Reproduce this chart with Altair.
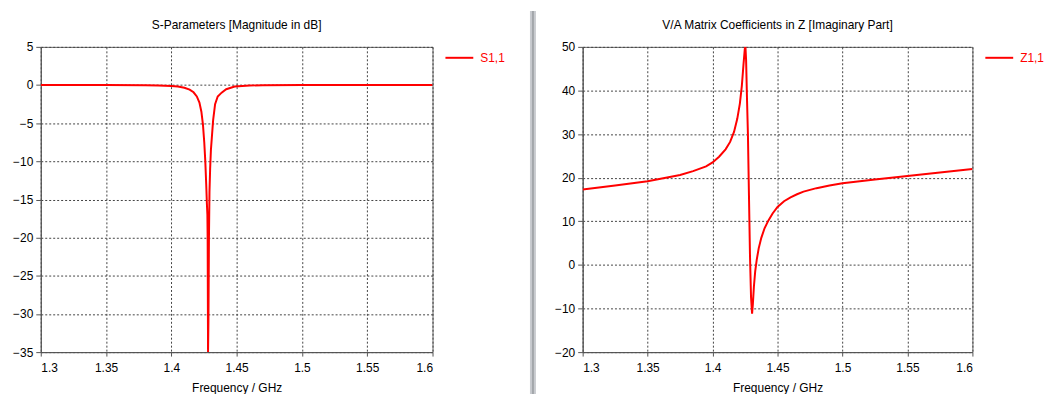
import altair as alt
import pandas as pd

# ---- data ----
s_freq = [1.30, 1.35, 1.38, 1.39, 1.40, 1.405, 1.41, 1.414, 1.417, 1.4195, 1.4215, 1.423,
          1.4242, 1.4252, 1.426, 1.4267, 1.4272, 1.4276, 1.4278, 1.4281, 1.4284, 1.4288,
          1.4292, 1.4297, 1.4303, 1.431, 1.432, 1.4335, 1.4355, 1.4385, 1.442, 1.4485,
          1.46, 1.47, 1.50, 1.55, 1.60]
s_vals = [0, 0, -0.03, -0.06, -0.12, -0.2, -0.35, -0.6, -0.95, -1.5, -2.3, -3.5,
          -5.2, -7.5, -10, -13, -15.5, -17, -20, -35, -31, -20,
          -14, -11, -8.5, -6.9, -4.6, -2.5, -1.5, -1.0, -0.55, -0.2,
          -0.06, -0.03, 0, 0, 0]

z_freq = [1.30, 1.325, 1.35, 1.375, 1.385, 1.395, 1.40, 1.405, 1.41, 1.4135, 1.4165, 1.419,
          1.421, 1.4225, 1.4238, 1.4248, 1.4253, 1.4258, 1.4265, 1.4272, 1.428, 1.4288,
          1.4296, 1.4304, 1.431, 1.4318, 1.4328, 1.434, 1.4355, 1.4375, 1.44, 1.443,
          1.4462, 1.45, 1.455, 1.46, 1.465, 1.47, 1.48, 1.49, 1.50, 1.525, 1.55, 1.575, 1.60]
z_vals = [17.3, 18.2, 19.2, 20.6, 21.5, 22.6, 23.5, 24.8, 26.5, 28.2, 30.5, 33.5,
          37, 41, 46, 49.5, 50, 47, 38, 30, 16, 2,
          -7.4, -11.2, -9, -5, -1.5, 1.2, 3.8, 6.2, 8.4, 10.2,
          11.8, 13.3, 14.6, 15.5, 16.2, 16.8, 17.6, 18.2, 18.7, 19.6, 20.4, 21.2, 22.0]

x_ticks = [1.3, 1.35, 1.4, 1.45, 1.5, 1.55, 1.6]
s_ticks = [5, 0, -5, -10, -15, -20, -25, -30, -35]
z_ticks = [50, 40, 30, 20, 10, 0, -10, -20]

FONT = "Liberation Sans"
RED = "#ff0000"

s_df = pd.DataFrame({"f": s_freq, "v": s_vals, "series": "S1,1"})
z_df = pd.DataFrame({"f": z_freq, "v": z_vals, "series": "Z1,1"})


def xaxis():
    return alt.Axis(values=x_ticks, format="~g", title="Frequency / GHz",
                    tickSize=4, labelPadding=7, titlePadding=9)


def legend(lx):
    return alt.Legend(title=None, orient="none", legendX=lx, legendY=-4,
                      symbolType="stroke", symbolSize=784, symbolStrokeWidth=2,
                      labelColor=RED, labelFontSize=12, labelFont=FONT,
                      labelOffset=6, padding=0)


def title(text):
    return alt.Title(text, frame="group", anchor="middle", offset=9,
                     font=FONT, fontSize=12, fontWeight="normal", color="#000000")


left = alt.Chart(s_df, title=title("S-Parameters [Magnitude in dB]")).mark_line(
    strokeWidth=2, clip=True).encode(
    x=alt.X("f:Q", scale=alt.Scale(domain=[1.3, 1.6], nice=False), axis=xaxis()),
    y=alt.Y("v:Q", scale=alt.Scale(domain=[-35, 5], nice=False),
            axis=alt.Axis(values=s_ticks, title=None, tickSize=5, labelPadding=3)),
    color=alt.Color("series:N", scale=alt.Scale(domain=["S1,1"], range=[RED]),
                    legend=legend(406)),
).properties(width=394, height=307)

# separator bar between the two panels
sep_df = pd.DataFrame({"a": [0]})
sep = alt.Chart(sep_df).mark_rect(fill="#c8cbcf", clip=False).encode(
    x=alt.value(6), x2=alt.value(12), y=alt.value(-36), y2=alt.value(349))
sep_line = alt.Chart(sep_df).mark_rule(stroke="#a3a7ab", strokeWidth=2, clip=False).encode(
    x=alt.value(9), y=alt.value(-36), y2=alt.value(349))
middle = alt.layer(sep, sep_line).properties(
    width=12, height=307, view=alt.ViewBackground(strokeWidth=0, stroke="transparent"))

right = alt.Chart(z_df, title=title("V/A Matrix Coefficients in Z [Imaginary Part]")).mark_line(
    strokeWidth=2, clip=True).encode(
    x=alt.X("f:Q", scale=alt.Scale(domain=[1.3, 1.6], nice=False), axis=xaxis()),
    y=alt.Y("v:Q", scale=alt.Scale(domain=[-20, 50], nice=False),
            axis=alt.Axis(values=z_ticks, title=None, tickSize=5, labelPadding=3)),
    color=alt.Color("series:N", scale=alt.Scale(domain=["Z1,1"], range=[RED]),
                    legend=legend(404)),
).properties(width=392, height=307)

chart = alt.hconcat(left, middle, right, spacing=18).resolve_scale(
    color="independent", y="independent", x="independent"
).properties(
    padding={"left": 12, "top": 9, "right": 0, "bottom": 0},
    background="white"
).configure_view(stroke="#666666", strokeWidth=1).configure_axis(
    labelFont=FONT, labelFontSize=12, labelColor="#000000",
    titleFont=FONT, titleFontSize=12, titleFontWeight="normal", titleColor="#000000",
    domainColor="#555555", tickColor="#555555", gridColor="#444444",
    gridDash=[2, 2], gridWidth=1, domainWidth=1, gridOpacity=1
)

chart.save("out.html", embed_options={"renderer": "svg", "actions": False})
